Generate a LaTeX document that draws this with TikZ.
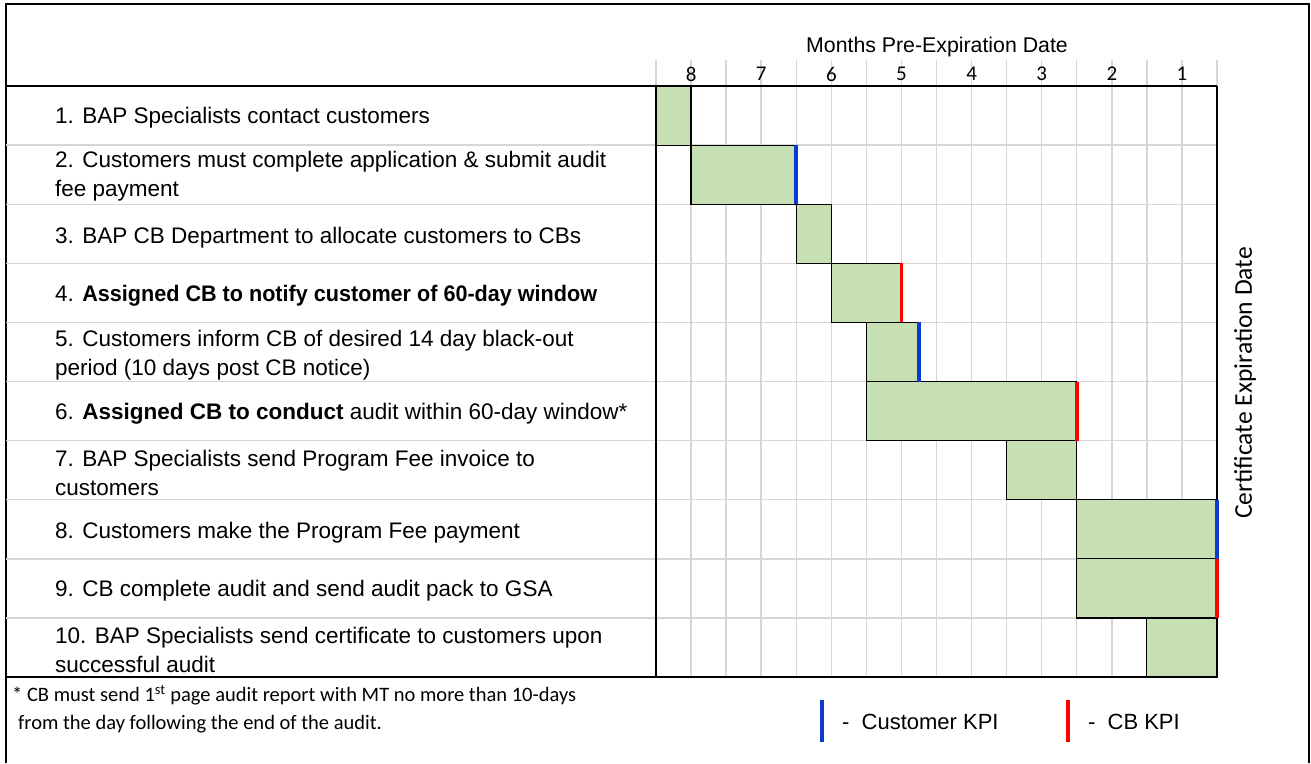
\documentclass[tikz,border=0pt]{standalone}
\usepackage{fontspec}
\usepackage{graphicx}
\setmainfont{Liberation Sans}
\newfontfamily\carl{Carlito}
\definecolor{barfill}{HTML}{C6E0B4}
\definecolor{gridc}{HTML}{D6D6D6}
\definecolor{kpiblue}{HTML}{0A3ACF}
\definecolor{kpired}{HTML}{FF0000}
\begin{document}
\begin{tikzpicture}[x=1pt,y=-1pt,
  task/.style={anchor=west,inner sep=0pt,align=left,font=\fontsize{22.5}{29}\selectfont},
  gridline/.style={draw=gridc,line width=1.4pt},
  frame/.style={draw=black,line width=1.3pt},
  barbox/.style={fill=barfill,draw=black,line width=1.2pt},
  custkpi/.style={draw=kpiblue,line width=3.6pt},
  cbkpi/.style={draw=kpired,line width=3.6pt},
  month/.style={inner sep=0pt,font=\carl\fontsize{21}{21}\selectfont},
  note/.style={anchor=west,inner sep=0pt,font=\carl\fontsize{20.5}{20.5}\selectfont},
  legend/.style={anchor=west,inner sep=0pt,font=\fontsize{22}{22}\selectfont}]
\useasboundingbox (0,0) rectangle (1311,763);
\fill[white] (0,0) rectangle (1311,763);
% outer frame
\draw[frame] (6,763) -- (6,4) -- (1309,4) -- (1309,763);
% row separators in text column
\foreach \yy in {145.1,204.2,263.3,322.4,381.5,440.6,499.7,558.8,617.9}
  \draw[gridline] (6,\yy) -- (656,\yy);
\begin{scope}[shift={(656,86)},x=35.0625pt,y=-59.1pt]
  % grid
  \foreach \i in {0,...,16} \draw[gridline] (\i,-0.44) -- (\i,0);
  \foreach \i in {1,...,15} \draw[gridline] (\i,0) -- (\i,10);
  \foreach \r in {1,...,9} \draw[gridline] (0,\r) -- (16,\r);
  % bars
  \draw[barbox] (0,0) rectangle (1,1);
  \draw[barbox] (1,1) rectangle (4,2);
  \draw[barbox] (4,2) rectangle (5,3);
  \draw[barbox] (5,3) rectangle (7,4);
  \draw[barbox] (6,4) rectangle (7.5,5);
  \draw[barbox] (6,5) rectangle (12,6);
  \draw[barbox] (10,6) rectangle (12,7);
  \draw[barbox] (12,7) rectangle (16,8);
  \draw[barbox] (12,8) rectangle (16,9);
  \draw[barbox] (14,9) rectangle (16,10);
  % month labels
  \foreach \m [count=\k from 0] in {8,7,6,5,4,3,2,1}
    \node[month] (m\m) at ({2*\k+1},-0.2) {\m};
\end{scope}
% black frame of table
\draw[frame] (6,86) -- (1217,86);
\draw[frame] (6,677) -- (1217,677);
\draw[frame] (656,86) -- (656,677);
\draw[frame] (1217,86) -- (1217,677);
% KPI markers
\begin{scope}[shift={(656,86)},x=35.0625pt,y=-59.1pt]
  \draw[custkpi] (4,1) -- (4,2);
  \draw[cbkpi] (7,3) -- (7,4);
  \draw[custkpi] (7.5,4) -- (7.5,5);
  \draw[cbkpi] (12,5) -- (12,6);
  \draw[custkpi] (16,7) -- (16,8);
  \draw[cbkpi] (16,8) -- (16,9);
\end{scope}
% header
\node[inner sep=0pt,font=\fontsize{21.3}{21.3}\selectfont] (hdr) at (937,47) {Months Pre-Expiration Date};
\node[inner sep=0pt,rotate=90,font=\carl\fontsize{25.6}{25.6}\selectfont] (ced) at (1245,383) {Certificate Expiration Date};
% tasks
\node[task] (t1) at (55,118) {1. BAP Specialists contact customers};
\node[task] (t2) at (55,176.5) {2. Customers must complete application \& submit audit\\fee payment};
\node[task] (t3) at (55,238) {3. BAP CB Department to allocate customers to CBs};
\node[task] (t4) at (55,296) {4. \scalebox{0.96}[1]{\textbf{Assigned CB to notify customer of 60-day window}}};
\node[task] (t5) at (55,355) {5. Customers inform CB of desired 14 day black-out\\period (10 days post CB notice)};
\node[task] (t6) at (55,414) {6. \textbf{Assigned CB to conduct} audit within 60-day window*};
\node[task] (t7) at (55,473) {7. BAP Specialists send Program Fee invoice to\\customers};
\node[task] (t8) at (55,533) {8. Customers make the Program Fee payment};
\node[task] (t9) at (55,591) {9. CB complete audit and send audit pack to GSA};
\node[task] (t10) at (55,649.5) {10. BAP Specialists send certificate to customers upon\\successful audit};
% footnote
\node[note] (n1) at (12,695) {* CB must send 1\textsuperscript{st} page audit report with MT no more than 10-days};
\node[note] (n2) at (18,724) {from the day following the end of the audit.};
% legend
\coordinate (lb1) at (822,700); \coordinate (lb2) at (822,742);
\draw[custkpi,line width=3.8pt] (lb1) -- (lb2);
\node[legend] (lc) at (842,722) {-\hspace{0.55em}Customer KPI};
\coordinate (lr1) at (1068,700); \coordinate (lr2) at (1068,742);
\draw[cbkpi,line width=3.8pt] (lr1) -- (lr2);
\node[legend] (lcb) at (1088,722) {-\hspace{0.55em}CB KPI};
\end{tikzpicture}
\end{document}
